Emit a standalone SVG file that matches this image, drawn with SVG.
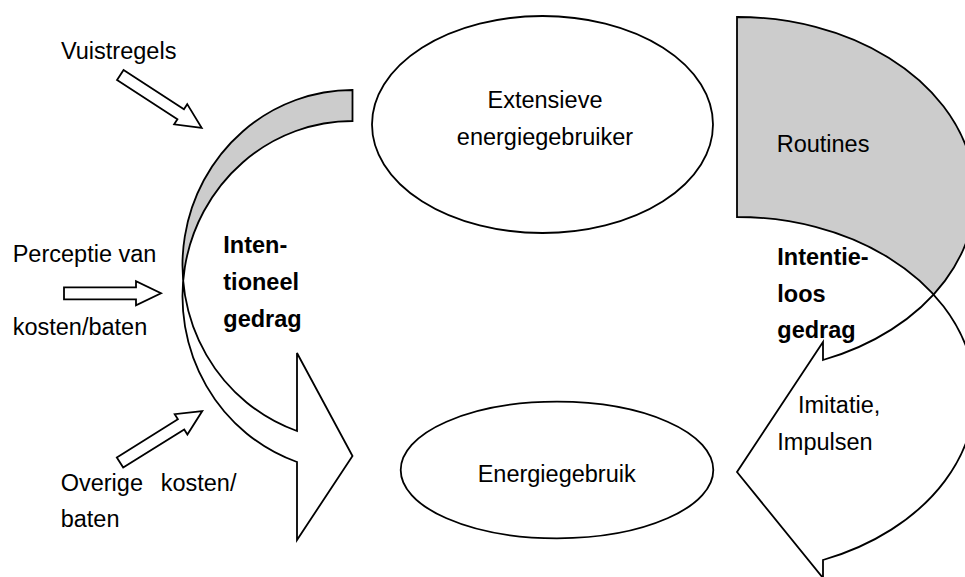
<svg xmlns="http://www.w3.org/2000/svg" width="965" height="577" viewBox="0 0 965 577">
<style>
.t{font-family:"Liberation Sans",Arial,Helvetica,sans-serif;font-size:23.5px;fill:#000}
.b{font-weight:bold}
.ln{fill:none;stroke:#000;stroke-width:1.8;stroke-linejoin:miter}
.wf{fill:#fff;stroke:none}
.gf{fill:#cccccc;stroke:none}
.ell{fill:#fff;stroke:#000;stroke-width:1.8}
.blk{fill:#fff;stroke:#000;stroke-width:1.8;stroke-linejoin:miter}
</style>
<defs>
<path id="blkArrow" d="M0,-6 H72 V-12 L97,0 L72,12 V6 H0 Z"/>
</defs>
<rect width="965" height="577" fill="#fff"/>
<g id="connectors">
  <g id="curved-left">
    <path class="wf" d="M352.5,90 A170,175.3 0 0 0 297,431 L297,353 L352.5,456 L297,540 L297,462 A170,175.3 0 0 1 352.5,121 Z"/>
    <path class="gf" d="M352.5,90 A170,175.3 0 0 0 183.2,280.8 A170,175.3 0 0 1 352.5,121 Z"/>
    <path class="ln" d="M352.5,90 A170,175.3 0 0 0 297,431 L297,353 L352.5,456 L297,540 L297,462 A170,175.3 0 0 1 352.5,121 Z"/>
  </g>
  <g id="curved-right">
    <path class="wf" d="M737,17 A238,177.5 0 0 1 823,360 L823,342 L737,472 L823,578 L823,560 A238,177.5 0 0 0 737,217 Z"/>
    <path class="gf" d="M737,17 A238,177.5 0 0 1 933.6,294.5 A238,177.5 0 0 0 737,217 Z"/>
    <path class="ln" d="M737,17 A238,177.5 0 0 1 823,360 L823,342 L737,472 L823,578 L823,560 A238,177.5 0 0 0 737,217 Z"/>
  </g>
  <use href="#blkArrow" class="blk" transform="translate(120.3,75) rotate(33)"/>
  <use href="#blkArrow" class="blk" transform="translate(64,293.3)"/>
  <use href="#blkArrow" class="blk" transform="translate(120,462.5) rotate(-32)"/>
</g>
<g id="node-extensieve">
  <ellipse class="ell" cx="542.5" cy="124.5" rx="170.5" ry="108.5"/>
  <text class="t" text-anchor="middle"><tspan x="545" y="108.3">Extensieve</tspan><tspan x="545" y="145">energiegebruiker</tspan></text>
</g>
<g id="node-energiegebruik">
  <ellipse class="ell" cx="557" cy="470" rx="156.3" ry="68.3"/>
  <text class="t" x="556.7" y="481.7" text-anchor="middle">Energiegebruik</text>
</g>
<g id="node-vuistregels">
  <text class="t" x="61" y="59">Vuistregels</text>
</g>
<g id="node-perceptie">
  <text class="t"><tspan x="12.7" y="261.7">Perceptie van</tspan><tspan x="12.7" y="335">kosten/baten</tspan></text>
</g>
<g id="node-overige">
  <text class="t"><tspan x="60.7" y="490.7">Overige</tspan><tspan x="160.7" y="490.7">kosten/</tspan><tspan x="60.7" y="527.3">baten</tspan></text>
</g>
<g id="node-intentioneel">
  <text class="t b"><tspan x="223.3" y="253.3">Inten-</tspan><tspan x="223.3" y="290">tioneel</tspan><tspan x="223.3" y="326.7">gedrag</tspan></text>
</g>
<g id="node-routines">
  <text class="t" x="776.7" y="151.7">Routines</text>
</g>
<g id="node-intentieloos">
  <text class="t b"><tspan x="777.3" y="265">Intentie-</tspan><tspan x="777.3" y="301.7">loos</tspan><tspan x="777.3" y="338.4">gedrag</tspan></text>
</g>
<g id="node-imitatie">
  <text class="t"><tspan x="798" y="413.3">Imitatie,</tspan><tspan x="777.3" y="450">Impulsen</tspan></text>
</g>
</svg>
